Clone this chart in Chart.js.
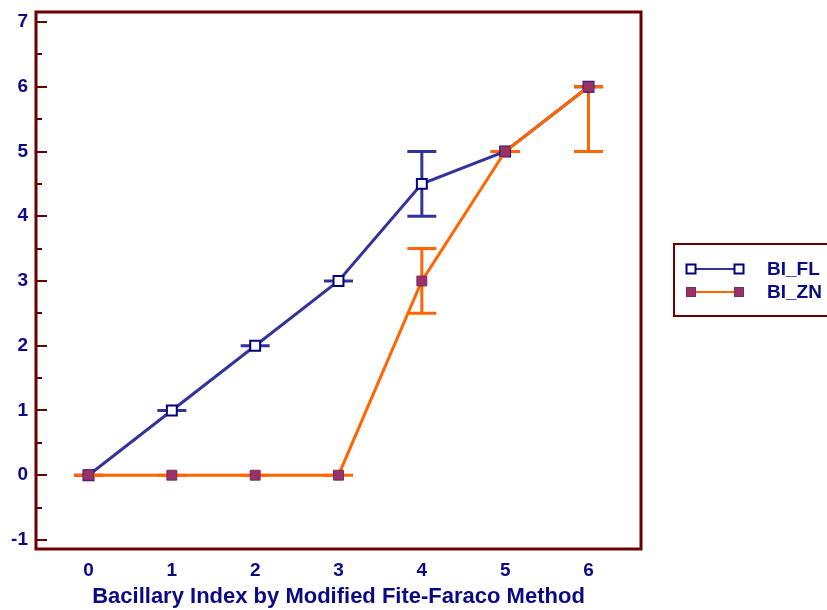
<!DOCTYPE html>
<html>
<head>
<meta charset="utf-8">
<script src="https://cdn.jsdelivr.net/npm/chart.js@4/dist/chart.umd.min.js"></script>
<style>
html,body{margin:0;padding:0;background:#fff;}
#wrap{width:827px;height:610px;position:relative;}
</style>
</head>
<body>
<div id="wrap"><canvas id="c" width="827" height="610"></canvas></div>
<script>
const xValues = [0, 1, 2, 3, 4, 5, 6];
const flValues = [0, 1, 2, 3, 4.5, 5, 6];
const flLow    = [0, 1, 2, 3, 4,   5, 6];
const flHigh   = [0, 1, 2, 3, 5,   5, 6];
const znValues = [0, 0, 0, 0, 3,   5, 6];
const znLow    = [0, 0, 0, 0, 2.5, 5, 5];
const znHigh   = [0, 0, 0, 0, 3.5, 5, 6];
const yTicks = [-1, 0, 1, 2, 3, 4, 5, 6, 7];
const seriesNames = ['BI_FL', 'BI_ZN'];
const xTitle = 'Bacillary Index by Modified Fite-Faraco Method';

const FRAME = '#6b0000';
const TEXT = '#0a0a85';
const FONT = '"Liberation Sans", Arial, sans-serif';

function pts(ys){ return xValues.map((x,i)=>({x:x, y:ys[i]})); }

const errorBars = [
  {low: flLow, high: flHigh, color: '#333399'},
  {low: znLow, high: znHigh, color: '#ff6600'}
];

const errorPlugin = {
  id: 'errorBars',
  beforeDatasetsDraw(chart){
    const ctx = chart.ctx, xs = chart.scales.x, ys = chart.scales.y;
    ctx.save();
    errorBars.forEach(eb=>{
      ctx.strokeStyle = eb.color;
      ctx.lineWidth = 3;
      xValues.forEach((xv,i)=>{
        const px = xs.getPixelForValue(xv);
        const pl = ys.getPixelForValue(eb.low[i]);
        const ph = ys.getPixelForValue(eb.high[i]);
        ctx.beginPath();
        ctx.moveTo(px, pl); ctx.lineTo(px, ph);
        ctx.moveTo(px-14.5, pl); ctx.lineTo(px+14.5, pl);
        ctx.moveTo(px-14.5, ph); ctx.lineTo(px+14.5, ph);
        ctx.stroke();
      });
    });
    ctx.restore();
  }
};

const framePlugin = {
  id: 'frame',
  afterDatasetsDraw(chart){
    const ctx = chart.ctx, a = chart.chartArea, ys = chart.scales.y;
    ctx.save();
    ctx.strokeStyle = FRAME;
    ctx.lineWidth = 2;
    yTicks.forEach(v=>{
      const py = Math.round(ys.getPixelForValue(v));
      ctx.beginPath(); ctx.moveTo(a.left, py); ctx.lineTo(a.left+11, py); ctx.stroke();
      if (v < 7) {
        const pm = Math.round(ys.getPixelForValue(v+0.5));
        ctx.beginPath(); ctx.moveTo(a.left, pm); ctx.lineTo(a.left+6, pm); ctx.stroke();
      }
    });
    ctx.lineWidth = 3;
    ctx.strokeRect(a.left, a.top, a.right-a.left, a.bottom-a.top);

    // legend
    const ds = chart.data.datasets;
    ctx.lineWidth = 2;
    ctx.strokeStyle = FRAME;
    ctx.strokeRect(674, 244, 200, 72);
    const rows = [269, 292];
    ds.forEach((d,i)=>{
      const y = rows[i];
      ctx.strokeStyle = d.borderColor;
      ctx.lineWidth = 2;
      ctx.beginPath(); ctx.moveTo(691, y); ctx.lineTo(739, y); ctx.stroke();
      [691, 739].forEach(mx=>{
        ctx.fillStyle = d.pointBackgroundColor;
        ctx.fillRect(mx-4.5, y-4.5, 9, 9);
        ctx.strokeStyle = d.pointBorderColor;
        ctx.lineWidth = i===0 ? 2 : 1;
        ctx.strokeRect(mx-4.5, y-4.5, 9, 9);
      });
      ctx.fillStyle = TEXT;
      ctx.font = 'bold 19px ' + FONT;
      ctx.textBaseline = 'middle';
      ctx.textAlign = 'left';
      ctx.fillText(d.label, 767, y+1);
    });
    ctx.restore();
  }
};

new Chart(document.getElementById('c'), {
  type: 'line',
  data: {
    datasets: [
      {
        label: seriesNames[0],
        data: pts(flValues),
        borderColor: '#333399',
        borderWidth: 3,
        pointStyle: 'rect',
        pointRadius: 7,
        pointBackgroundColor: '#ffffff',
        pointBorderColor: '#000080',
        pointBorderWidth: 2,
        tension: 0,
        order: 2
      },
      {
        label: seriesNames[1],
        data: pts(znValues),
        borderColor: '#ff6600',
        borderWidth: 3,
        pointStyle: 'rect',
        pointRadius: 7,
        pointBackgroundColor: '#993366',
        pointBorderColor: '#7a2a66',
        pointBorderWidth: 1,
        tension: 0,
        order: 1
      }
    ]
  },
  options: {
    responsive: false,
    animation: false,
    layout: {padding: {top: 12, right: 186, left: 0, bottom: 0}},
    plugins: {legend: {display: false}, tooltip: {enabled: false}},
    scales: {
      x: {
        type: 'linear',
        min: -0.63, max: 6.63,
        afterBuildTicks(s){ s.ticks = xValues.map(v=>({value:v})); },
        afterFit(s){ s.height = 61; s.paddingLeft = 0; s.paddingRight = 0; },
        grid: {display: false, drawTicks: false},
        border: {display: false},
        ticks: {color: TEXT, font: {family: FONT, size: 19, weight: 'bold'}, padding: 10, autoSkip: false, maxRotation: 0},
        title: {display: true, text: xTitle, color: TEXT, font: {family: FONT, size: 22, weight: 'bold'}, padding: {top: 6, bottom: 0}}
      },
      y: {
        type: 'linear',
        min: -1.14, max: 7.155,
        afterBuildTicks(s){ s.ticks = yTicks.map(v=>({value:v})); },
        afterFit(s){ s.width = 36; s.paddingTop = 0; s.paddingBottom = 0; },
        grid: {display: false, drawTicks: false},
        border: {display: false},
        ticks: {color: TEXT, font: {family: FONT, size: 19, weight: 'bold'}, padding: 8, autoSkip: false}
      }
    }
  },
  plugins: [errorPlugin, framePlugin]
});
</script>
</body>
</html>
